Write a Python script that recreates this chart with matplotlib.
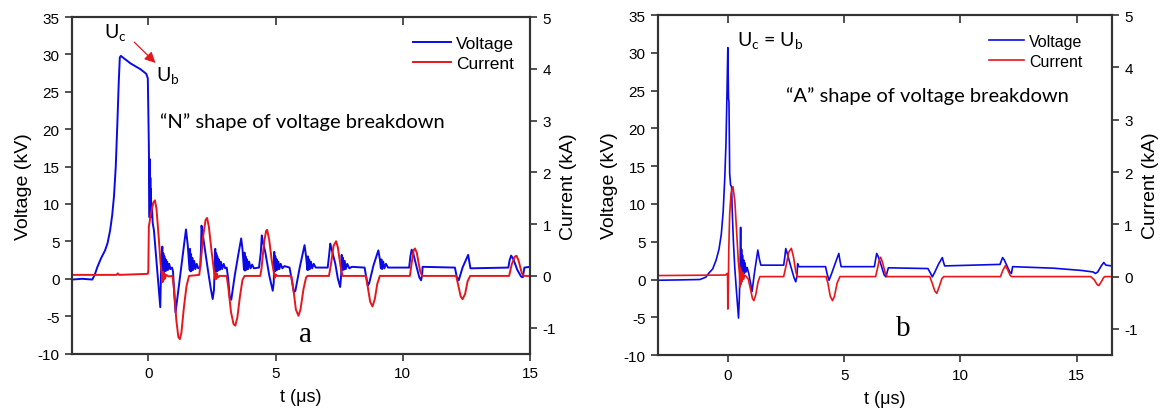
import matplotlib
matplotlib.use("Agg")
import matplotlib.pyplot as plt

plt.rcParams['font.family'] = ['Liberation Sans', 'DejaVu Sans']
plt.rcParams['axes.unicode_minus'] = False

# ---- (a) "N" shape breakdown ----
t_va = [-3.0, -2.6, -2.2, -2.1, -2.0, -1.85, -1.7, -1.6, -1.5, -1.42, -1.35, -1.28, -1.22, -1.16,
        -1.12, -1.08, -0.7, -0.3, -0.08, -0.02, 0.02, 0.04,
        0.05, 0.06, 0.07, 0.08, 0.09, 0.10, 0.12, 0.14, 0.17, 0.22, 0.28, 0.36, 0.42, 0.47,
        0.50, 0.53, 0.55, 0.57, 0.59, 0.61, 0.63, 0.65, 0.68, 0.71, 0.74, 0.78, 0.82, 0.87,
        0.93, 0.97, 1.02, 1.07, 1.2, 1.35, 1.48, 1.55, 1.62,
        1.64, 1.66, 1.68, 1.70, 1.73, 1.76, 1.80, 1.85, 1.90, 1.96, 2.04,
        2.07, 2.09, 2.12, 2.2, 2.35, 2.45, 2.53, 2.58, 2.61,
        2.63, 2.65, 2.67, 2.69, 2.71, 2.74, 2.77, 2.81, 2.85, 2.90, 2.96, 3.02, 3.08,
        3.14, 3.2, 3.26, 3.4, 3.55, 3.65, 3.7, 3.76,
        3.78, 3.80, 3.82, 3.85, 3.88, 3.92, 3.96, 4.02, 4.08, 4.15, 4.35,
        4.42, 4.46, 4.5, 4.6, 4.75, 4.89, 4.93, 4.95,
        4.97, 4.99, 5.01, 5.04, 5.07, 5.11, 5.15, 5.2, 5.27, 5.35, 5.55,
        5.62, 5.72, 5.78, 5.95, 6.14, 6.2, 6.25,
        6.27, 6.29, 6.32, 6.35, 6.39, 6.44, 6.5, 6.58, 7.05,
        7.1, 7.15, 7.2, 7.35, 7.45, 7.54, 7.58, 7.6,
        7.62, 7.65, 7.68, 7.72, 7.76, 7.82, 7.9, 8.0, 8.5,
        8.56, 8.63, 8.68, 8.85, 9.04, 9.1, 9.14,
        9.16, 9.19, 9.23, 9.28, 9.34, 9.42, 10.25,
        10.3, 10.35, 10.42, 10.55, 10.65, 10.72, 10.76, 10.78, 12.05,
        12.12, 12.2, 12.35, 12.57, 12.62, 12.66, 14.15,
        14.2, 14.26, 14.35, 14.5, 14.65, 14.72, 14.78, 15.0]
volt_a = [-0.1, 0.0, -0.1, 0.6, 1.6, 2.8, 3.8, 4.8, 6.5, 8.5, 11.0, 15.0, 20.5, 26.5,
          29.6, 29.8, 28.8, 28.0, 27.4, 26.8, 18.0, 12.0,
          8.2, 16.0, 9.0, 13.5, 8.4, 12.0, 8.3, 10.0, 7.5, 6.5, 4.0, 0.5, -2.0, -3.8,
          1.0, 3.0, 4.3, 0.8, 3.4, 0.9, 3.0, 1.0, 2.6, 1.1, 2.3, 1.2, 2.0, 1.3,
          1.5, 1.0, -2.0, -4.5, -1.0, 3.0, 6.6, 4.5, 1.2,
          4.0, 1.0, 3.3, 1.1, 2.8, 1.2, 2.4, 1.3, 2.0, 1.4, 1.6,
          4.0, 7.1, 6.5, 4.5, 1.0, -1.2, -2.7, -1.5, 1.5,
          4.0, 1.0, 3.4, 1.0, 3.0, 1.1, 2.6, 1.2, 2.3, 1.3, 2.0, 1.4, 1.5,
          0.0, -2.5, -2.8, 0.5, 3.5, 5.4, 4.0, 1.2,
          3.5, 1.1, 3.0, 1.2, 2.6, 1.3, 2.3, 1.4, 1.9, 1.4, 1.5,
          3.5, 5.8, 5.0, 3.5, 0.5, -1.6, -0.5, 3.6,
          1.0, 3.0, 1.1, 2.6, 1.2, 2.3, 1.3, 2.0, 1.4, 1.7, 1.5,
          0.2, -1.8, -1.6, 1.5, 4.5, 3.0, 1.2,
          3.0, 1.2, 2.6, 1.3, 2.3, 1.4, 2.0, 1.5, 1.5,
          3.0, 4.7, 4.0, 2.0, 0.0, -1.1, 0.5, 3.2,
          1.2, 2.8, 1.2, 2.4, 1.3, 2.0, 1.4, 1.6, 1.5,
          0.3, -0.9, -0.6, 1.8, 3.8, 2.6, 1.4,
          2.6, 1.3, 2.3, 1.4, 2.0, 1.5, 1.5,
          3.0, 3.9, 3.3, 1.5, 0.2, -0.2, 0.5, 1.6, 1.5,
          0.3, -0.2, 1.5, 3.2, 2.2, 1.4, 1.5,
          2.5, 3.1, 2.6, 1.2, 0.3, 0.2, 1.5, 1.6]

t_ia = [-3.0, -1.25, -1.2, -1.15, -0.02, 0.0, 0.02, 0.1, 0.2, 0.26, 0.32, 0.4, 0.48, 0.54,
        0.56, 0.58, 0.60, 0.63, 0.66, 0.7, 0.8, 0.95,
        1.02, 1.1, 1.18, 1.24, 1.3, 1.4, 1.5, 1.6, 2.0,
        2.05, 2.15, 2.25, 2.31, 2.38, 2.48, 2.58, 2.63,
        2.65, 2.67, 2.70, 2.74, 2.8, 3.08,
        3.15, 3.25, 3.35, 3.42, 3.5, 3.6, 3.7, 3.78, 4.40,
        4.45, 4.55, 4.63, 4.67, 4.75, 4.85, 4.95, 4.97, 5.0, 5.05, 5.62,
        5.7, 5.8, 5.9, 5.98, 6.1, 6.2, 6.25, 7.1,
        7.17, 7.28, 7.38, 7.45, 7.55, 7.63, 8.55,
        8.62, 8.72, 8.81, 8.9, 9.0, 9.1, 10.28,
        10.35, 10.43, 10.48, 10.55, 10.68, 10.76, 12.1,
        12.18, 12.28, 12.35, 12.45, 12.55, 12.65, 14.18,
        14.28, 14.4, 14.47, 14.55, 14.68, 14.75, 15.0]
curr_a = [0.02, 0.02, 0.05, 0.02, 0.04, 0.1, 0.95, 1.2, 1.42, 1.46, 1.3, 0.8, 0.25, 0.0,
          -0.12, 0.08, -0.08, 0.05, -0.05, 0.02, -0.01, 0.0,
          -0.3, -0.85, -1.18, -1.22, -1.1, -0.6, -0.2, 0.0, 0.02,
          0.2, 0.75, 1.08, 1.12, 0.95, 0.5, 0.1, -0.05,
          0.06, -0.06, 0.04, -0.03, 0.0, 0.0,
          -0.25, -0.7, -0.93, -0.96, -0.8, -0.4, -0.08, 0.0, 0.0,
          0.15, 0.65, 0.87, 0.89, 0.7, 0.3, 0.02, -0.04, 0.03, 0.0, 0.0,
          -0.25, -0.65, -0.77, -0.65, -0.25, -0.03, 0.0, 0.0,
          0.2, 0.58, 0.67, 0.55, 0.2, 0.0, 0.0,
          -0.2, -0.5, -0.59, -0.45, -0.15, 0.0, 0.0,
          0.25, 0.5, 0.53, 0.45, 0.1, 0.0, 0.0,
          -0.18, -0.4, -0.45, -0.35, -0.1, 0.0, 0.0,
          0.22, 0.37, 0.39, 0.3, 0.05, 0.0, 0.0]

# ---- (b) "A" shape breakdown ----
t_vb = [-3.0, -2.0, -1.2, -0.95, -0.8, -0.65, -0.5, -0.38, -0.28, -0.2, -0.13, -0.08, -0.04,
        0.0, 0.03, 0.05, 0.08, 0.12, 0.16, 0.19, 0.24, 0.3, 0.37, 0.46, 0.5, 0.53, 0.55,
        0.57, 0.59, 0.61, 0.63, 0.65, 0.68, 0.71, 0.74, 0.78, 0.83, 0.9, 0.98, 1.04,
        1.15, 1.29, 1.35, 1.42, 2.4,
        2.45, 2.49, 2.55, 2.7, 2.85, 2.92, 2.97, 3.0, 3.05, 4.2,
        4.28, 4.35, 4.45, 4.6, 4.77, 4.82, 4.87, 6.3,
        6.36, 6.4, 6.47, 6.6, 6.72, 6.8, 6.85, 6.9, 8.6,
        8.7, 8.79, 8.9, 9.05, 9.22, 9.27, 9.32, 11.7,
        11.76, 11.81, 11.88, 12.0, 12.12, 12.19, 12.24, 14.0, 15.2, 15.7,
        15.8, 15.9, 16.05, 16.16, 16.25, 16.5]
volt_b = [-0.1, -0.05, 0.0, 0.3, 0.9, 1.4, 2.6, 4.0, 6.0, 9.0, 13.5, 18.0, 24.0,
          30.7, 24.0, 23.5, 14.0, 12.5, 12.3, 9.0, 5.0, 1.5, -1.5, -5.1, -2.0, 2.3, 6.9,
          1.0, 4.0, 0.6, 3.2, 0.8, 2.6, 0.8, 2.2, 1.0, 1.6, 0.8, -0.5, -1.6,
          1.0, 3.9, 2.8, 1.9, 1.9,
          3.0, 4.1, 3.5, 1.8, 0.2, -0.3, 0.4, 2.1, 1.7, 1.7,
          0.6, -0.1, 0.7, 2.0, 3.45, 2.5, 1.7, 1.7,
          2.8, 3.45, 3.0, 1.8, 0.6, 0.35, 1.0, 1.55, 1.45,
          0.9, 0.35, 1.0, 2.0, 2.9, 2.3, 1.8, 2.0,
          2.5, 2.9, 2.6, 1.8, 1.0, 0.8, 1.7, 1.5, 1.2, 1.0,
          0.8, 1.0, 1.8, 2.25, 1.9, 1.8]

t_ib = [-3.0, -0.1, -0.03, -0.01, 0.0, 0.02, 0.04, 0.08, 0.14, 0.22, 0.3, 0.38, 0.45, 0.5,
        0.52, 0.54, 0.56, 0.58, 0.61, 0.64, 0.68, 0.73, 0.8,
        0.88, 0.98, 1.06, 1.12, 1.2, 1.3, 1.38, 2.4,
        2.5, 2.62, 2.73, 2.82, 2.92, 2.98, 4.22,
        4.3, 4.4, 4.5, 4.58, 4.7, 4.82, 6.35,
        6.43, 6.52, 6.57, 6.65, 6.77, 6.85, 8.68,
        8.78, 8.9, 8.98, 9.08, 9.2, 9.28, 11.72,
        11.82, 11.93, 12.02, 12.14, 12.2, 15.6,
        15.75, 15.87, 15.95, 16.05, 16.15, 16.2, 16.5]
curr_b = [0.02, 0.03, 0.06, 0.0, -0.62, -0.3, 0.5, 1.2, 1.6, 1.72, 1.45, 0.85, 0.3, 0.05,
          -0.2, 0.18, -0.15, 0.12, -0.1, 0.08, -0.05, 0.03, 0.0,
          -0.05, -0.25, -0.42, -0.46, -0.35, -0.1, 0.0, 0.0,
          0.2, 0.47, 0.54, 0.38, 0.1, 0.0, 0.0,
          -0.12, -0.37, -0.46, -0.38, -0.12, 0.0, 0.0,
          0.15, 0.34, 0.37, 0.27, 0.06, 0.0, 0.0,
          -0.12, -0.28, -0.32, -0.2, -0.04, 0.0, 0.0,
          0.12, 0.21, 0.14, 0.02, 0.0, 0.0,
          -0.06, -0.15, -0.17, -0.1, -0.02, 0.0, 0.0]

blue = '#0a0ae6'
red = '#e8161a'
note_font = ['Lato', 'DejaVu Sans']


def panel(rect, t_v, volt, t_i, curr, xmax, lw, legend_anchor, legend_size):
    ax = fig.add_axes(rect)
    ax2 = ax.twinx()
    lv, = ax.plot(t_v, volt, color=blue, lw=lw, label='Voltage')
    li, = ax2.plot(t_i, curr, color=red, lw=lw, label='Current')

    ax.set_xlim(-3, xmax)
    ax.set_ylim(-10, 35)
    ax2.set_ylim(-1.5, 5)
    ax.set_xticks([0, 5, 10, 15])
    ax.set_yticks(range(-10, 36, 5))
    ax2.set_yticks(range(-1, 6))

    ax.set_xlabel('t (\u03bcs)', fontsize=13, labelpad=6)
    ax.set_ylabel('Voltage (kV)', fontsize=14, labelpad=4)
    ax2.set_ylabel('Current (kA)', fontsize=14, labelpad=3)

    for a in (ax, ax2):
        for s in a.spines.values():
            s.set_linewidth(1.5)
            s.set_color('#333333')
    ax.tick_params(axis='both', direction='out', length=5, width=1.2,
                   labelsize=11, color='#333333', pad=4)
    ax2.tick_params(axis='y', direction='out', length=5, width=1.2,
                    labelsize=11, color='#333333', pad=4)

    # inward ticks along the top edge
    top = ax.secondary_xaxis('top')
    top.set_xticks([0, 5, 10, 15])
    top.tick_params(direction='in', length=6, width=1.2, labeltop=False, color='#333333')
    top.spines['top'].set_visible(False)

    ax.legend([lv, li], ['Voltage', 'Current'], loc='upper right',
              bbox_to_anchor=legend_anchor, frameon=False, fontsize=legend_size,
              handlelength=2.2, handletextpad=0.3, labelspacing=0.3,
              borderpad=0, borderaxespad=0)
    return ax, ax2


fig = plt.figure(figsize=(11.63, 4.14), dpi=100)

ax_a, _ = panel([0.0619, 0.1435, 0.3938, 0.813], t_va, volt_a, t_ia, curr_a, 15, 1.4,
                (0.965, 0.945), 12.5)
ax_a.text(-1.75, 33.0, r'U$_\mathregular{c}$', fontsize=14, family=note_font,
          va='center', ha='left')
ax_a.text(0.31, 27.2, r'U$_\mathregular{b}$', fontsize=14, family=note_font,
          va='center', ha='left')
ax_a.annotate('', xy=(0.36, 28.6), xytext=(-0.63, 31.9),
              arrowprops=dict(arrowstyle='-|>', color=red, lw=0.9, mutation_scale=16))
ax_a.text(0.44, 21.1, '\u201cN\u201d shape of voltage breakdown', fontsize=14.5,
          family=note_font, va='center', ha='left')
ax_a.text(6.19, -7.4, 'a', fontsize=21, family=['Liberation Serif'], va='center', ha='center')

ax_b, _ = panel([0.5658, 0.140, 0.3901, 0.821], t_vb, volt_b, t_ib, curr_b, 16.5, 1.2,
                (0.935, 0.945), 11.5)
ax_b.text(0.39, 31.7, r'U$_\mathregular{c}$ = U$_\mathregular{b}$', fontsize=14,
          family=note_font, va='center', ha='left')
ax_b.text(2.49, 24.4, '\u201cA\u201d shape of voltage breakdown', fontsize=14.5,
          family=note_font, va='center', ha='left')
ax_b.text(7.56, -6.4, 'b', fontsize=21, family=['Liberation Serif'], va='center', ha='center')

fig.savefig('out.png', dpi=100)
